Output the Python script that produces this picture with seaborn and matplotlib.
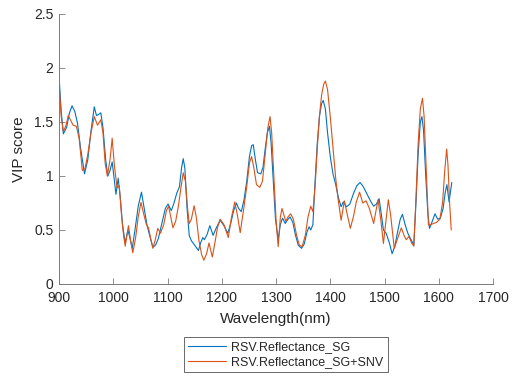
import matplotlib
matplotlib.use("Agg")
import matplotlib.pyplot as plt
import seaborn as sns
import pandas as pd

# VIP scores per wavelength for the two preprocessing variants
wl_sg = [900, 904, 908, 914, 919, 924, 929, 934, 940, 947, 953, 959, 965, 969, 973, 977, 981, 986,
         990, 994, 998, 1001, 1005, 1009, 1013, 1017, 1022, 1027, 1031, 1035, 1040, 1046, 1052, 1057,
         1062, 1067, 1073, 1078, 1083, 1090, 1096, 1101, 1107, 1112, 1117, 1122, 1126, 1129, 1132,
         1136, 1140, 1144, 1150, 1157, 1161, 1165, 1168, 1173, 1178, 1184, 1190, 1197, 1204, 1211,
         1216, 1222, 1227, 1231, 1236, 1241, 1246, 1251, 1255, 1258, 1262, 1266, 1272, 1276, 1280,
         1284, 1288, 1291, 1295, 1299, 1304, 1308, 1312, 1317, 1322, 1326, 1331, 1336, 1341, 1347,
         1352, 1357, 1361, 1364, 1368, 1372, 1376, 1380, 1384, 1387, 1391, 1395, 1400, 1405, 1410,
         1415, 1420, 1424, 1430, 1436, 1443, 1449, 1455, 1461, 1467, 1474, 1480, 1485, 1490, 1494,
         1498, 1503, 1509, 1514, 1519, 1524, 1529, 1533, 1538, 1543, 1548, 1554, 1558, 1562, 1566,
         1569, 1572, 1576, 1580, 1583, 1588, 1593, 1598, 1603, 1608, 1612, 1615, 1619, 1624]
vip_sg = [1.93, 1.60, 1.39, 1.45, 1.58, 1.65, 1.60, 1.49, 1.25, 1.02, 1.15, 1.42, 1.64, 1.56, 1.57,
          1.585, 1.45, 1.15, 1.00, 1.05, 1.13, 1.00, 0.83, 0.98, 0.80, 0.55, 0.38, 0.50, 0.42, 0.33,
          0.50, 0.72, 0.85, 0.70, 0.55, 0.45, 0.34, 0.36, 0.42, 0.57, 0.70, 0.74, 0.68, 0.75, 0.84,
          0.90, 1.08, 1.16, 1.07, 0.70, 0.45, 0.40, 0.36, 0.31, 0.38, 0.43, 0.41, 0.46, 0.54, 0.45,
          0.52, 0.59, 0.54, 0.47, 0.55, 0.68, 0.75, 0.70, 0.67, 0.78, 0.95, 1.18, 1.28, 1.29, 1.15,
          1.03, 1.02, 1.08, 1.25, 1.40, 1.46, 1.30, 0.95, 0.60, 0.41, 0.55, 0.61, 0.56, 0.60, 0.62,
          0.57, 0.45, 0.36, 0.33, 0.37, 0.48, 0.53, 0.50, 0.55, 0.95, 1.30, 1.55, 1.67, 1.70, 1.62,
          1.40, 1.18, 1.02, 0.92, 0.80, 0.715, 0.76, 0.715, 0.74, 0.84, 0.91, 0.94, 0.90, 0.84, 0.77,
          0.72, 0.74, 0.79, 0.65, 0.50, 0.47, 0.38, 0.28, 0.35, 0.48, 0.60, 0.645, 0.55, 0.47, 0.42,
          0.36, 0.75, 1.20, 1.50, 1.55, 1.42, 1.00, 0.65, 0.515, 0.58, 0.65, 0.60, 0.61, 0.70, 0.85,
          0.92, 0.76, 0.94]

wl_snv = [900, 904, 908, 913, 917, 921, 926, 932, 937, 943, 948, 953, 959, 965, 971, 977, 981, 985,
          989, 994, 998, 1002, 1007, 1011, 1015, 1019, 1022, 1028, 1032, 1036, 1041, 1046, 1051, 1056,
          1061, 1065, 1069, 1073, 1077, 1082, 1087, 1093, 1098, 1102, 1106, 1110, 1115, 1120, 1125,
          1129, 1133, 1137, 1140, 1144, 1149, 1153, 1158, 1163, 1167, 1172, 1176.5, 1182.6, 1188,
          1192, 1197, 1204, 1212, 1218, 1224, 1229, 1234, 1240, 1246, 1251, 1255, 1259, 1264, 1270,
          1275, 1280, 1285, 1289, 1292, 1296, 1300, 1304, 1308, 1311, 1315, 1318, 1322, 1327, 1332,
          1338, 1343, 1348, 1354, 1359, 1364, 1368, 1372, 1376, 1380, 1384, 1388, 1391, 1395, 1400,
          1405, 1410, 1414, 1420, 1426, 1431, 1437, 1443, 1448, 1454, 1460, 1466, 1472, 1480, 1488,
          1493, 1498, 1503, 1507, 1511, 1518, 1524, 1531, 1536, 1540, 1545, 1550, 1554, 1558, 1562,
          1566, 1570, 1573, 1577, 1581, 1586, 1590, 1596, 1602, 1607, 1611, 1614.6, 1617, 1620, 1623]
vip_snv = [1.86, 1.55, 1.41, 1.47, 1.56, 1.52, 1.47, 1.46, 1.35, 1.05, 1.07, 1.20, 1.40, 1.55, 1.47,
           1.52, 1.40, 1.12, 1.00, 1.15, 1.35, 1.10, 0.89, 0.91, 0.65, 0.45, 0.35, 0.54, 0.40, 0.29,
           0.42, 0.62, 0.755, 0.65, 0.55, 0.52, 0.42, 0.33, 0.40, 0.515, 0.47, 0.55, 0.68, 0.72, 0.62,
           0.52, 0.58, 0.72, 0.90, 1.03, 0.95, 0.70, 0.56, 0.60, 0.725, 0.62, 0.40, 0.27, 0.22, 0.28,
           0.38, 0.25, 0.40, 0.52, 0.60, 0.55, 0.43, 0.62, 0.76, 0.63, 0.475, 0.68, 0.90, 1.12, 1.18,
           1.08, 0.92, 0.895, 0.95, 1.20, 1.45, 1.55, 1.40, 1.00, 0.60, 0.345, 0.62, 0.70, 0.63, 0.58,
           0.62, 0.65, 0.60, 0.45, 0.36, 0.345, 0.45, 0.62, 0.72, 0.67, 0.90, 1.25, 1.55, 1.75, 1.85,
           1.88, 1.80, 1.55, 1.27, 0.98, 0.80, 0.59, 0.77, 0.65, 0.515, 0.63, 0.76, 0.85, 0.75, 0.77,
           0.70, 0.56, 0.78, 0.60, 0.375, 0.60, 0.78, 0.65, 0.33, 0.42, 0.52, 0.45, 0.41, 0.44, 0.38,
           0.35, 0.80, 1.30, 1.62, 1.72, 1.55, 1.05, 0.545, 0.55, 0.56, 0.57, 0.60, 0.75, 1.05, 1.25,
           1.10, 0.75, 0.50]

series_names = ["RSV.Reflectance_SG", "RSV.Reflectance_SG+SNV"]
x_ticks = [900, 1000, 1100, 1200, 1300, 1400, 1500, 1600, 1700]
y_ticks = [0, 0.5, 1, 1.5, 2, 2.5]
y_tick_labels = ["0", "0.5", "1", "1.5", "2", "2.5"]

df = pd.concat([
    pd.DataFrame({"Wavelength": wl_sg, "VIP": vip_sg, "Series": series_names[0]}),
    pd.DataFrame({"Wavelength": wl_snv, "VIP": vip_snv, "Series": series_names[1]}),
], ignore_index=True)

sns.set_theme(style="white")
plt.rcParams["font.family"] = ["Liberation Sans", "DejaVu Sans"]

ink = "#262626"
axis_grey = "#7a7a7a"
fig = plt.figure(figsize=(5.15, 3.78), dpi=100)
ax = fig.add_axes([0.1146, 0.2487, 0.8427, 0.7143])

sns.lineplot(data=df, x="Wavelength", y="VIP", hue="Series", hue_order=series_names,
             palette=["#0072BD", "#D95319"], linewidth=0.8, sort=False,
             estimator=None, ax=ax, legend=False)

ax.set_xlim(900, 1700)
ax.set_ylim(0, 2.5)
ax.set_xticks(x_ticks)
ax.set_yticks(y_ticks)
ax.set_yticklabels(y_tick_labels)
ax.set_xlabel("Wavelength(nm)", fontsize=11, color=ink, labelpad=5)
ax.set_ylabel("VIP score", fontsize=11, color=ink, labelpad=6)

for side in ("top", "right"):
    ax.spines[side].set_visible(False)
for side in ("left", "bottom"):
    ax.spines[side].set_color(axis_grey)
    ax.spines[side].set_linewidth(0.7)
ax.tick_params(direction="in", length=4, width=0.6, color=axis_grey, labelcolor=ink,
               labelsize=10, left=True, bottom=True)
ax.tick_params(axis="x", pad=5)
ax.tick_params(axis="y", pad=4)

handles = ax.get_lines()[:2]
leg = fig.legend(handles, series_names, loc="upper center",
                 bbox_to_anchor=(0.555, 0.108), fontsize=9, frameon=True,
                 fancybox=False, handlelength=3.0, borderpad=0.35,
                 labelspacing=0.2, handletextpad=0.45, borderaxespad=0)
leg.get_frame().set_edgecolor(ink)
leg.get_frame().set_linewidth(0.6)
for t in leg.get_texts():
    t.set_color(ink)

fig.savefig("out.png", dpi=100)
